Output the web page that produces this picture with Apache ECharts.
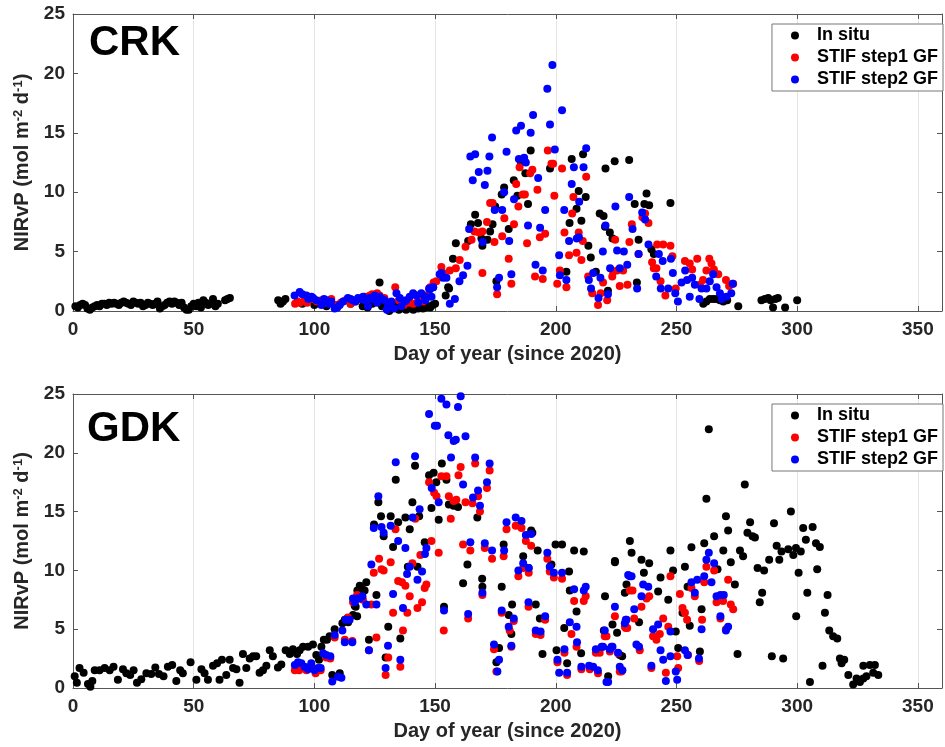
<!DOCTYPE html>
<html>
<head>
<meta charset="utf-8">
<script src="https://cdn.jsdelivr.net/npm/echarts@6/dist/echarts.min.js"></script>
<style>html,body{margin:0;padding:0;background:#fff;}#c{width:945px;height:747px;}</style>
</head>
<body>
<div id="c"></div>
<script>
// ---------------- DATA ----------------
const seriesNames = ['In situ', 'STIF step1 GF', 'STIF step2 GF'];
const panelNames = ['CRK', 'GDK'];
const xTicks = [0, 50, 100, 150, 200, 250, 300, 350];
const yTicks = [0, 5, 10, 15, 20, 25];

const crkInSitu = [
[1,0.4],[2,0.3],[3,0.5],[4,0.6],[5,0.5],[6,0.2],[7,0.1],[8,0.3],[9,0.4],[10,0.5],[11,0.4],[12,0.6],[13,0.6],[14,0.5],[15,0.7],[16,0.6],[17,0.7],[18,0.6],[19,0.5],[20,0.7],[21,0.8],[22,0.7],[23,0.6],[24,0.5],[25,0.8],[26,0.7],[27,0.6],[28,0.7],[29,0.4],[30,0.5],[31,0.7],[32,0.6],[33,0.5],[34,0.6],[35,0.8],[36,0.2],[37,0.4],[38,0.5],[39,0.7],[40,0.8],[41,0.6],[42,0.8],[43,0.7],[44,0.5],[45,0.7],[46,0.3],[47,0.1],[48,0.1],[49,0.4],[50,0.6],[51,0.4],[52,0.7],[53,0.3],[54,0.9],[55,0.7],[56,0.5],[57,0.6],[58,1.0],[59,0.4],[60,0.6],[63,0.9],[64,1.0],[65,1.1],
[85,0.9],[86,0.6],[87,0.8],[88,1.0],
[95,0.6],[100,0.5],[105,0.4],[110,0.5],[115,0.6],[120,0.4],[122,0.3],[124,0.6],[125,0.8],[127,2.4],[128,0.4],[129,0.6],[130,0.2],[131,0.0],[132,0.2],[133,0.5],[134,0.3],[135,0.1],[136,0.4],[137,0.2],[138,0.1],[139,0.3],[140,0.2],[141,0.1],[142,0.3],[143,0.2],[144,0.4],[145,0.2],[146,0.3],[147,0.4],[148,0.3],[149,0.5],[150,0.6],
[154.4,1.3],[155.4,2.0],[155.8,1.9],[157.4,4.4],[158.6,5.7],[163.7,5.9],[164.8,7.3],[166.6,8.1],[167.8,7.4],[169.2,6.1],[169.6,5.5],[171.7,6.0],[172.8,6.7],[173.8,7.3],[174.9,8.8],[175.4,2.5],[177.6,9.8],[178.6,10.4],[180.5,6.9],[182.6,11.0],[184.1,9.7],[185.6,12.5],[187.4,11.6],[188.5,9.0],[189.6,13.5],[197.6,12.0],[204.4,3.3],[205.7,7.4],[206.6,12.8],[208.6,8.6],[209.5,10.1],[210.6,7.6],[211.3,13.2],[212.4,9.6],[213.5,5.5],[214.5,4.5],[216.6,3.3],[218.2,8.2],[219.8,8.0],[220.4,7.1],[220.6,12.0],[221.6,1.7],[222.4,6.6],[223.5,6.1],[224.4,12.6],[230.4,12.7],[232.7,9.0],[233.6,2.4],[234.3,6.0],[236.7,9.0],[237.6,9.9],[238.7,8.9],[239.6,5.2],[240.6,4.8],[247.5,9.1],[261.1,0.6],[262.4,0.8],[263.8,1.0],[265.2,1.0],[266.6,1.0],[268.0,0.9],[269.4,0.8],[271,0.9],[275.6,0.4],[285.2,0.9],[286.6,1.0],[288,1.1],[289,0.9],[290,0.3],[291,1.0],[292,1.1],[295,0.3],[300,0.9]
];

const crkStep1 = [
[92,0.6],[93,0.8],[94,0.7],[96,0.9],[97,0.7],[99,1.0],[101,0.8],[103,0.9],[105,0.7],[107,1.0],[109,0.5],[111,0.7],[113,0.9],[115,0.6],[117,0.8],[119,1.0],[121,1.2],[123,1.3],[124,1.4],[126,1.5],[127,1.3],[129,1.1],[131,0.6],[133.5,2.0],[135,0.9],[137,0.5],[139,0.7],[141,0.6],[143,1.0],[145,0.8],[146,1.3],[148,2.0],[149.4,2.4],[150.5,2.5],[152.6,3.7],[153.3,3.2],
[196.7,13.5],[198.2,12.4],[198.9,12.4],[202.6,12.0],[185.0,12.1],[190.3,11.9],[189.4,11.6],[183.6,10.7],[187.2,9.8],[186.3,9.8],[192.4,10.2],[199.4,9.7],[207.3,9.6],[212.6,11.3],[172.8,9.1],[173.8,9.1],[184.5,8.8],[178.7,7.8],[182.7,7.3],[171.5,7.5],[166.3,6.7],[168.2,6.6],[169.6,6.7],[165.1,6.0],[162.6,5.4],[174.6,5.8],[177.8,6.3],[188.1,5.7],[193.4,6.2],[195.6,6.5],[203.6,6.6],[206.8,8.2],[209.5,6.6],[211.2,5.9],[208.6,4.9],[205.5,4.7],[210.6,4.3],[180.5,4.4],[160.2,4.3],[158.6,3.6],[156.1,3.4],[169.6,3.2],[175.7,1.4],[181.6,2.3],[191.4,2.9],[194.6,2.7],[200.6,2.3],[201.7,3.4],[204.4,2.0],[213.4,2.9],[215.1,1.5],[217.5,0.5],[218.6,1.5],[221.3,0.9],[219.6,2.4],[223.4,2.9],[226.5,2.1],[229.7,2.2],[223.8,3.3],[225.4,3.4],[227.9,3.4],[224.6,6.0],[230.5,5.8],[231.5,7.3],[235.9,7.9],[237.0,8.2],[238.4,7.4],[234.3,4.8],[239.9,4.1],[242.0,5.6],[244.5,5.6],[247.5,5.5],[248.3,4.6],[240.6,3.6],[241.7,3.6],[243.4,2.5],[245.4,1.3],[249.7,1.9],[253.5,4.2],[255.5,4.0],[256.5,3.5],[258.6,4.4],[259.7,2.2],[261.0,2.6],[262.4,3.4],[263.6,4.4],[264.5,4.0],[265.5,3.5],[267.3,3.1],[270.5,2.6],[271.8,2.1],[273.5,2.3]
];

const crkStep2 = [
[91.8,1.3],[93.9,1.6],[95,1.4],[96.7,1.3],[97.5,1.0],[98.8,1.2],[99.5,1.1],[100.8,0.9],[102.9,0.5],[104,1.0],[105.0,0.9],[106,0.6],[107.0,0.8],[108.4,0.2],[109.5,0.3],[110.5,0.5],[111.9,0.8],[113.9,1.1],[115,1.0],[116.0,0.9],[117,0.8],[118.1,1.1],[119,1.0],[120.2,1.2],[121,0.9],[122.2,0.4],[122.9,1.1],[124,1.0],[125.0,1.3],[126,0.7],[127.0,1.2],[128,1.0],[129.1,0.9],[130,0.1],[130.5,0.5],[131.9,0.8],[133,0.2],[134.0,1.5],[135.4,1.1],[136,0.4],[137.4,0.8],[138,0.9],[139.5,1.2],[140.9,1.5],[142.3,1.3],[143,0.7],[144.3,1.5],[145.7,1.2],[146,0.9],[147.8,1.8],[148.5,1.2],[149.2,2.0],[151.9,3.1],[153.3,2.8],
[198.6,20.7],[196.5,18.7],[202.6,16.9],[190.6,16.5],[185.6,15.6],[183.6,15.2],[189.6,15.0],[197.6,15.7],[173.6,14.6],[179.6,13.4],[199.6,13.6],[212.6,13.7],[164.6,13.0],[166.6,13.2],[172.5,13.0],[184.7,12.8],[186.9,12.9],[187.6,12.5],[168.1,11.7],[171.7,11.8],[165.6,11.0],[170.6,10.6],[192.7,11.2],[207.5,12.1],[211.5,12.1],[206.6,10.7],[209.7,9.2],[178.6,10.0],[182.7,9.4],[224.7,8.8],[230.4,9.6],[174.7,8.5],[177.8,8.5],[195.6,8.5],[203.5,8.5],[188.5,7.2],[193.5,7.0],[235.8,8.3],[237.0,7.7],[231.8,6.9],[220.6,7.2],[164.1,6.9],[169.7,5.8],[180.7,5.9],[205.5,5.9],[208.7,6.1],[209.6,6.2],[238.4,5.6],[242.7,4.8],[219.5,5.0],[225.4,5.1],[228.2,5.0],[234.3,4.8],[201.4,4.7],[163.4,3.8],[161.6,3.0],[160.1,2.5],[158.2,1.0],[156.1,0.6],[152.6,3.2],[154.7,2.8],[149.2,2.0],[147.5,1.9],[191.6,3.9],[194.6,3.4],[181.6,3.1],[176.5,2.8],[175.7,2.0],[201.7,3.0],[204.4,2.6],[215.5,3.2],[213.7,2.6],[218.5,2.8],[214.6,1.9],[217.7,1.1],[221.6,1.4],[222.5,3.6],[226.5,3.6],[229.6,3.9],[233.7,1.9],[241.6,2.9],[243.5,1.9],[246.6,1.9],[244.3,4.2],[247.7,4.4],[248.5,3.2],[250.6,0.8],[249.5,1.5],[252.1,2.4],[253.6,3.4],[254.4,2.6],[255.5,1.2],[256.5,2.8],[257.6,2.2],[259.5,1.0],[260.4,1.9],[262.4,1.9],[263.8,2.5],[265.2,3.1],[266.6,2.0],[268.0,1.5],[268.8,1.0],[270.7,1.2],[272.7,1.5],[273.3,2.3]
];

const gdkInSitu = [
[0.7,1.0],[1.6,0.45],[2.7,1.7],[4.4,1.3],[6.2,0.35],[7.2,0.1],[8.0,0.6],[9.0,1.5],[11.0,1.5],[13.1,1.7],[15.2,1.5],[16.8,1.8],[18.6,0.7],[20.7,1.6],[22.1,1.25],[23.7,1.1],[25.1,1.5],[26.5,0.45],[28.3,0.75],[30.4,1.25],[32.4,1.2],[34.1,1.75],[35.6,1.2],[37.5,1.0],[39.3,1.8],[41.1,1.95],[42.8,0.6],[44.4,1.5],[45.5,1.25],[48.7,2.2],[51.1,0.7],[53.2,1.6],[54.5,1.25],[55.9,0.7],[58.0,1.9],[59.7,2.1],[60.7,0.7],[61.7,2.4],[63.5,1.1],[64.9,2.4],[66.3,1.7],[67.7,1.6],[69.0,0.45],[70.4,2.9],[71.8,1.7],[73.2,2.5],[74.6,2.7],[75.9,2.7],[77.3,1.3],[78.7,1.5],[80.1,1.9],[81.5,3.2],[82.8,2.7],[84.9,1.75],[86.3,2.0],[88.1,3.2],[89.8,2.9],[91.1,3.3],[92.8,2.9],[93.9,3.2],[95.3,3.5],[97.4,3.5],[99.4,3.7],[100.8,2.8],[101.9,2.4],[102.9,3.5],[103.9,4.1],[105.2,4.1],[106.3,4.4],[107.4,1.1],[108.4,5.0],[110.5,1.25],[111.6,5.5],[112.6,5.8],[114.0,5.6],[116.0,6.2],[116.7,7.0],[117.1,6.9],[117.7,6.1],[117.8,8.3],[118.8,8.7],[119.9,8.4],[120.8,8.3],[121.5,9.0],[122.6,4.1],[124.7,13.9],[125.7,7.9],[126.5,15.8],[127.6,14.6],[128.7,12.9],[129.5,2.6],[130.6,5.2],[131.6,14.6],[132.6,12.0],[133.7,17.7],[134.7,14.1],[135.6,4.2],[137.7,14.5],[138.7,10.3],[139.5,13.5],[140.6,15.8],[141.7,18.9],[142.7,10.3],[143.4,14.6],[145.7,12.4],[147.5,18.1],[148.5,15.3],[149.4,18.3],[150.5,17.5],[151.5,14.3],[152.8,19.1],[153.7,6.9],[154.7,17.7],[155.7,15.6],[157.7,15.5],[159.5,15.4],[161.6,8.9],[163.4,10.5],[167.5,14.5],[169.5,9.3],[169.6,8.6],[175.4,2.2],[176.5,3.4],[177.6,8.6],[178.4,12.2],[180.5,6.2],[181.6,4.6],[181.9,7.1],[186.5,11.2],[188.7,10.2],[189.8,13.4],[190.3,13.2],[191.7,7.1],[192.5,11.7],[193.4,5.9],[194.5,2.9],[198.2,10.5],[199.9,12.2],[200.3,3.2],[202.6,12.2],[203.5,5.1],[204.7,2.1],[205.5,9.9],[205.8,8.3],[207.6,11.7],[208.6,6.5],[210.5,2.95],[211.6,11.6],[219.9,4.9],[220.4,7.8],[221.7,1.0],[223.5,5.4],[224.5,10.7],[224.5,10.8],[225.4,4.7],[226.5,2.8],[227.5,2.7],[228.6,8.1],[229.3,8.8],[230.7,12.5],[231.4,11.5],[234.5,5.6],[235.5,10.9],[236.5,9.8],[238.7,10.6],[242.4,8.2],[243.4,9.4],[246.6,7.5],[247.5,11.7],[248.6,10.0],[249.7,4.8],[250.7,3.4],[252.5,6.4],[253.5,10.3],[254.6,8.6],[255.5,5.3],[256.2,11.96],[259.7,3.1],[260.4,6.7],[261.5,12.3],[262.4,16.1],[263.4,22.0],[265.6,12.9],[267.0,10.1],[269.4,11.7],[270.5,14.6],[271.4,13.4],[272.5,10.7],[274.2,8.8],[275.3,2.9],[276.3,11.7],[277.6,11.2],[278.3,17.3],[279.4,13.2],[280.5,14.1],[281.5,12.9],[282.5,12.8],[283.6,10.2],[284.5,7.3],[285.5,8.1],[286.3,10.0],[288.4,10.9],[289.5,2.7],[290.4,14.0],[291.5,12.1],[292.6,10.9],[293.5,11.6],[294.2,2.5],[296.3,11.8],[297.4,15.0],[298.4,11.3],[299.5,11.9],[299.6,6.1],[300.6,9.8],[301.5,11.6],[302.5,13.6],[303.6,12.6],[304.2,8.1],[305.3,0.5],[306.4,13.7],[307.8,12.3],[308.3,10.1],[309.4,12.0],[310.5,1.9],[311.5,6.4],[312.6,7.9],[313.3,4.9],[314.9,4.4],[316.6,4.2],[317.7,2.5],[318.4,2.1],[319.5,2.4],[321.2,1.1],[323.2,0.3],[324.6,0.8],[326.0,0.5],[327.4,0.8],[327.4,1.9],[328.7,1.0],[330.1,1.95],[331.5,1.3],[332.2,1.95],[333.6,1.1]
];

const gdkStep1 = [
[91.9,1.5],[93.7,1.5],[95.2,1.8],[96.7,1.5],[98.7,1.9],[100.5,1.25],[102.6,1.5],[104.9,2.6],[106.6,2.5],[108.4,4.3],[112.6,4.1],[113.5,5.9],[113.9,6.0],[115.7,4.0],[116.0,7.3],[117.7,7.9],[120.1,7.5],[122.6,3.2],[123.6,7.1],[124.6,9.8],[125.7,4.3],[126.8,11.0],[127.8,10.1],[128.7,10.0],[129.5,1.1],[130.6,2.6],[131.6,10.7],[132.6,6.4],[133.6,13.5],[134.7,9.1],[135.6,1.8],[136.3,9.0],[136.7,4.9],[137.7,8.7],[138.5,6.4],[139.5,7.8],[140.6,10.6],[141.8,14.4],[142.7,6.8],[143.9,11.3],[144.6,7.3],[145.7,8.5],[146.4,8.8],[147.5,17.5],[148.5,12.5],[149.6,16.6],[150.6,16.3],[151.5,11.5],[152.6,18.0],[153.6,4.9],[154.7,18.0],[155.7,16.3],[156.5,14.4],[157.7,15.9],[158.8,16.0],[159.7,18.1],[160.6,18.8],[161.6,12.2],[162.6,15.8],[163.7,5.9],[164.6,11.7],[165.5,15.7],[166.6,19.1],[167.8,16.3],[168.6,15.0],[169.6,7.9],[170.6,11.9],[171.5,17.0],[172.6,18.5],[173.6,11.0],[174.4,3.3],[175.4,1.4],[177.6,6.4],[178.4,11.2],[179.6,13.5],[180.9,4.9],[181.6,3.5],[182.6,5.7],[183.4,13.8],[184.5,9.5],[185.8,13.6],[186.5,10.2],[187.6,12.5],[188.7,6.9],[188.8,9.8],[189.8,12.1],[191.7,4.6],[193.7,4.5],[195.6,5.8],[196.5,11.0],[197.5,9.9],[199.2,9.4],[200.7,2.2],[202.6,9.3],[203.6,3.0],[204.7,1.1],[206.5,4.6],[207.6,7.4],[208.6,3.5],[210.6,1.6],[211.6,7.4],[212.4,7.8],[214.1,1.6],[216.6,3.0],[217.5,1.25],[218.2,3.0],[220.3,4.4],[221.0,4.4],[222.4,3.1],[224.5,6.1],[225.8,2.95],[226.5,1.4],[227.2,1.4],[228.6,5.2],[229.0,5.1],[229.6,5.1],[230.7,8.3],[231.8,8.3],[232.5,5.9],[234.8,3.2],[235.5,6.9],[237.6,7.6],[238.7,7.8],[239.6,1.7],[240.3,4.4],[241.7,4.1],[243.1,4.6],[244.5,5.9],[245.6,1.3],[246.6,5.2],[247.5,9.5],[250.3,2.7],[250.7,1.7],[251.4,8.0],[252.5,6.8],[253.5,6.4],[254.4,5.8],[254.8,2.8],[256.2,8.5],[257.6,7.8],[259.4,2.3],[260.6,5.8],[261.5,9.0],[262.4,10.3],[265.6,10.0],[266.6,7.3],[268.2,5.9],[269.3,7.4],[270.5,5.0],[271.4,9.2],[272.5,7.1],[273.5,6.7]
];

const gdkStep2 = [
[91.9,1.95],[93.2,2.2],[94.6,2.1],[95.9,1.8],[97.4,1.6],[98.7,2.1],[100.1,1.5],[101.5,1.7],[102.6,1.7],[103.6,2.95],[104.9,2.8],[106.6,2.7],[107.4,0.55],[108.4,4.5],[109.8,0.96],[111.2,0.88],[111.6,4.9],[112.6,3.9],[113.0,5.8],[114.6,5.8],[115.7,3.9],[116.0,7.6],[116.7,7.3],[117.8,7.6],[118.8,7.6],[119.9,7.8],[121.5,7.1],[122.6,3.2],[123.6,10.5],[124.6,13.6],[125.7,7.1],[126.5,16.3],[127.8,13.7],[128.7,13.2],[129.5,1.7],[130.5,3.6],[131.6,13.8],[132.6,8.0],[133.7,19.2],[134.7,12.5],[135.6,2.4],[136.7,6.8],[137.7,11.9],[138.4,9.7],[139.5,10.3],[140.7,14.5],[141.7,19.7],[142.7,9.2],[143.6,15.2],[144.6,9.9],[145.8,11.4],[146.4,11.9],[147.5,23.3],[148.6,17.0],[149.9,22.3],[150.8,22.3],[151.5,15.8],[152.6,24.6],[153.7,6.6],[154.7,24.1],[155.5,21.5],[156.6,19.6],[157.7,21.0],[158.6,21.1],[159.5,23.9],[160.6,24.8],[161.6,17.3],[162.6,21.4],[163.7,6.3],[164.6,12.4],[165.7,16.2],[166.6,19.6],[167.8,16.8],[168.6,15.5],[169.6,8.1],[170.6,12.3],[171.5,17.5],[172.6,19.1],[173.6,11.7],[174.4,3.7],[175.8,1.4],[176.5,2.4],[177.6,6.6],[178.6,11.7],[179.6,14.1],[180.5,5.2],[181.6,3.6],[182.6,5.9],[183.4,14.5],[184.5,10.0],[185.8,14.2],[186.5,10.6],[187.6,13.0],[188.7,7.3],[188.8,10.2],[189.8,13.1],[191.7,4.9],[193.7,4.8],[195.6,6.1],[196.5,11.5],[197.5,10.3],[199.2,9.8],[200.7,2.4],[201.4,1.3],[202.6,9.8],[203.6,3.3],[204.7,1.3],[205.8,5.6],[207.6,8.4],[208.6,5.2],[208.8,3.9],[210.6,1.8],[211.6,8.3],[212.4,8.6],[213.8,1.9],[215.5,1.8],[216.6,3.3],[217.4,1.5],[219.0,3.5],[219.6,3.5],[220.3,4.9],[221.0,0.5],[221.7,0.5],[222.4,3.3],[223.1,3.5],[223.5,3.5],[224.5,6.9],[225.8,3.0],[226.5,1.8],[227.6,1.5],[228.6,5.5],[229.0,5.8],[229.3,5.8],[230.0,9.6],[230.7,9.5],[231.4,9.5],[232.5,6.7],[233.4,3.7],[234.5,3.5],[235.5,7.8],[236.2,8.8],[238.3,8.6],[239.6,1.9],[240.3,5.0],[242.4,5.4],[243.4,3.2],[244.5,2.4],[245.6,0.6],[247.5,4.8],[247.5,2.7],[249.7,1.4],[250.3,0.7],[253.5,3.2],[254.6,2.8],[256.2,9.0],[257.6,8.1],[258.6,9.2],[259.3,2.5],[260.4,5.0],[261.5,9.5],[262.4,10.9],[263.4,11.5],[264.5,9.0],[265.6,10.6],[266.6,7.8],[268.2,7.9],[268.2,6.1],[269.6,7.9],[270.5,4.9],[271.4,5.2]
];

// ---------------- CHART ----------------
const FONT = '"Liberation Sans", Arial, Helvetica, sans-serif';
const AXC = '#262626';
const colors = ['#000000', '#ff0000', '#0000ff'];
const grids = [
  {left: 73, top: 14, width: 870, height: 297},
  {left: 73, top: 394, width: 870, height: 294}
];
const panelData = [[crkInSitu, crkStep1, crkStep2], [gdkInSitu, gdkStep1, gdkStep2]];

const xAxes = [], yAxes = [], series = [], legends = [], graphics = [];
grids.forEach((g, i) => {
  const common = {
    gridIndex: i, type: 'value', min: xTicks[0], max: 360, interval: 50,
    axisLine: {show: true, onZero: false, lineStyle: {color: '#555', width: 1}},
    axisTick: {show: true, inside: true, length: 5, lineStyle: {color: '#555'}}
  };
  xAxes.push(Object.assign({}, common, {
    position: 'bottom',
    name: 'Day of year (since 2020)', nameLocation: 'middle', nameGap: 33,
    nameTextStyle: {fontFamily: FONT, fontWeight: 'bold', fontSize: 20, color: AXC},
    axisLabel: {fontFamily: FONT, fontWeight: 'bold', fontSize: 19, color: AXC, margin: 9,
      formatter: v => xTicks.indexOf(v) >= 0 ? String(v) : ''},
    splitLine: {show: true, lineStyle: {color: '#e4e4e4', width: 1}}
  }));
  xAxes.push(Object.assign({}, common, {
    position: 'top', axisLabel: {show: false}, splitLine: {show: false}
  }));
  const ycommon = {
    gridIndex: i, type: 'value', min: yTicks[0], max: 25, interval: 5,
    axisLine: {show: true, onZero: false, lineStyle: {color: '#555', width: 1}},
    axisTick: {show: true, inside: true, length: 5, lineStyle: {color: '#555'}},
    splitLine: {show: false}
  };
  yAxes.push(Object.assign({}, ycommon, {
    position: 'left',
    name: '{b|NIRvP (mol m}{s|-2}{b| d}{s|-1}{b|)}',
    nameLocation: 'middle', nameGap: 35, nameRotate: 90,
    nameTextStyle: {
      rich: {
        b: {fontFamily: FONT, fontWeight: 'bold', fontSize: 20, color: AXC, lineHeight: 22, verticalAlign: 'middle'},
        s: {fontFamily: FONT, fontWeight: 'bold', fontSize: 13, color: AXC, lineHeight: 22, verticalAlign: 'top'}
      }
    },
    axisLabel: {fontFamily: FONT, fontWeight: 'bold', fontSize: 19, color: AXC, margin: 8,
      formatter: v => yTicks.indexOf(v) >= 0 ? String(v) : ''}
  }));
  yAxes.push(Object.assign({}, ycommon, {position: 'right', axisLabel: {show: false}}));

  panelData[i].forEach((d, k) => {
    series.push({
      type: 'scatter', name: seriesNames[k], xAxisIndex: i * 2, yAxisIndex: i * 2,
      data: d, symbol: 'circle', symbolSize: 8,
      itemStyle: {color: colors[k], opacity: 1}, z: 2 + k, silent: true
    });
  });

  legends.push({
    data: seriesNames.map((n, k) => ({name: n, itemStyle: {color: colors[k]}})),
    orient: 'vertical', right: 2, top: i === 0 ? 24 : 404,
    icon: 'circle', itemWidth: 34, itemHeight: 8, itemGap: 1,
    padding: [1, 5, 1, 19], backgroundColor: '#fff',
    borderColor: '#777', borderWidth: 1, selectedMode: false,
    textStyle: {fontFamily: FONT, fontWeight: 'bold', fontSize: 18, color: '#000', lineHeight: 21}
  });

  graphics.push({
    type: 'text', left: i === 0 ? 89 : 87, top: i === 0 ? 22 : 408,
    style: {text: panelNames[i], font: 'bold 42px ' + FONT, fill: '#000'}
  });
});

const chart = echarts.init(document.getElementById('c'), null, {renderer: 'canvas'});
chart.setOption({
  animation: false,
  backgroundColor: '#fff',
  grid: grids,
  xAxis: xAxes,
  yAxis: yAxes,
  legend: legends,
  series: series,
  graphic: graphics
});
</script>
</body>
</html>
